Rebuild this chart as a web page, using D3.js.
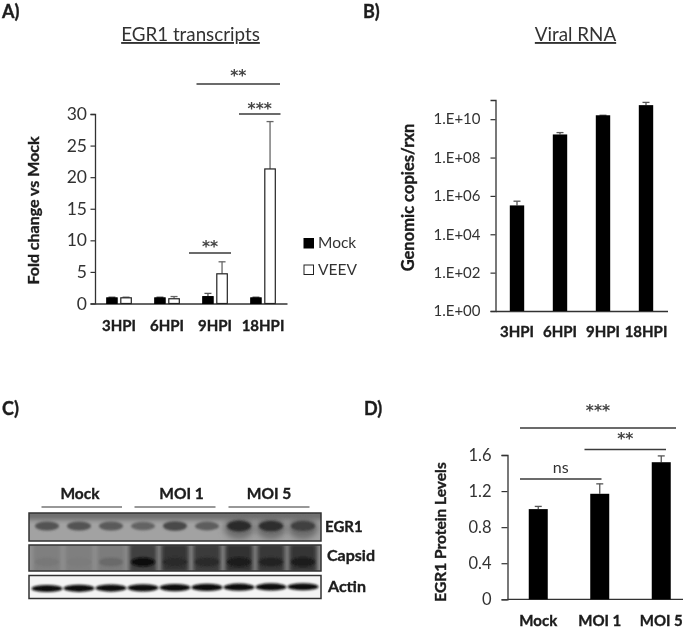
<!DOCTYPE html>
<html><head><meta charset="utf-8">
<script src="https://cdn.jsdelivr.net/npm/d3@7"></script>
<style>
html,body{margin:0;padding:0;background:#fff}
svg{display:block}
text{font-family:Lato,"Open Sans",sans-serif;fill:#222}
.b{font-weight:700;fill:#1c1c1c;stroke:#1c1c1c;stroke-width:.35}
</style></head><body>
<svg id="c" width="694" height="628"></svg>
<script>
// Panel A
const hpi = ["3HPI","6HPI","9HPI","18HPI"];
const mockMean = [0.9,0.9,1.1,0.9];
const mockErr  = [1.0,1.0,1.6,1.0];
const veevMean = [0.9,0.75,4.7,21.3];
const veevErr  = [1.0,1.1,6.6,28.8];
const aTicks = [0,5,10,15,20,25,30];
// Panel B
const rnaMean = [3.2e5,1.6e9,1.6e10,5.4e10];
const rnaErr  = [5.3e5,2.0e9,1.6e10,7.5e10];
const bTicks = [1,1e2,1e4,1e6,1e8,1e10];
const bTickLabels = ["1.E+00","1.E+02","1.E+04","1.E+06","1.E+08","1.E+10"];
// Panel C (band darkness per lane, 0-1)
const blotLanes = [0,1,2,3,4,5,6,7,8];
const egr1Bands = [.6,.6,.56,.5,.66,.54,.84,.82,.72];
const capsidUpper = [.34,.34,.36,.72,.78,.74,.8,.76,.78];
const capsidLower = [.38,.36,.46,1,.85,.85,.92,.88,.92];
const actinBands = [1,1,1,1,1,1,1,1,1];
const groups = ["Mock","MOI 1","MOI 5"];
const blotNames = ["EGR1","Capsid","Actin"];
// Panel D
const moi = ["Mock","MOI 1","MOI 5"];
const protMean = [1.0,1.17,1.52];
const protErr = [1.03,1.28,1.59];
const dTicks = [0,0.4,0.8,1.2,1.6];

const svg = d3.select("#c");
const defs = svg.append("defs");
const soft = defs.append("filter").attr("id","soft").attr("x","-5%").attr("y","-5%").attr("width","110%").attr("height","110%");
soft.append("feGaussianBlur").attr("stdDeviation",0.42);
[["blur2",2.2],["blur3",3.2],["blur1",1.2]].forEach(([id,s])=>{
  const f=defs.append("filter").attr("id",id).attr("x","-40%").attr("y","-80%").attr("width","180%").attr("height","260%");
  f.append("feGaussianBlur").attr("stdDeviation",s);
});
const root = svg.append("g").attr("filter","url(#soft)");
const axisColor = "#333";

function txt(g,x,y,s,o={}){
  const t=g.append("text").attr("x",x).attr("y",y).text(s)
    .attr("font-size",o.size||12).attr("text-anchor",o.anchor||"middle");
  if(o.bold) t.attr("class","b");
  if(o.rot!==undefined) t.attr("transform",`rotate(${o.rot} ${x} ${y})`);
  if(o.ul) t.attr("text-decoration","underline");
  if(o.color) t.style("fill",o.color);
  return t;
}
function styleAxis(a){
  a.select(".domain").attr("stroke",axisColor).attr("stroke-width",1.3);
  a.selectAll(".tick line").attr("stroke",axisColor).attr("stroke-width",1.2);
}
function errBar(g,x,y0,y1,c){
  g.append("line").attr("x1",x).attr("x2",x).attr("y1",y0).attr("y2",y1).attr("stroke",c).attr("stroke-width",1.3);
  g.append("line").attr("x1",x-3.5).attr("x2",x+3.5).attr("y1",y1).attr("y2",y1).attr("stroke",c).attr("stroke-width",1.3);
}
function sig(g,x1,x2,y,label,cy){
  g.append("line").attr("x1",x1).attr("x2",x2).attr("y1",y).attr("y2",y).attr("stroke","#3a3a3a").attr("stroke-width",1.4);
  if(label==="ns") txt(g,(x1+x2)/2,cy+4,label,{size:16,color:"#333"});
  else txt(g,(x1+x2)/2,cy+7,label,{size:15.5,color:"#444"}).style("font-family","'DejaVu Sans'").style("font-weight",700);
}

// ---------- A
const A = root.append("g");
txt(A,2,18,"A)",{size:18,anchor:"start",bold:true});
txt(A,190.5,41,"EGR1 transcripts",{size:18.8,ul:true,color:"#333"});
const ax = d3.scaleBand().domain(hpi).range([95,287]);
const ay = d3.scaleLinear().domain([0,30]).range([303.5,114]);
const aL = A.append("g").attr("transform","translate(95,0)").call(d3.axisLeft(ay).tickValues(aTicks).tickSize(4.5).tickPadding(3.5).tickFormat(d3.format("d")));
styleAxis(aL);
aL.selectAll("text").attr("font-size",17.5).style("fill","#333");
const aB = A.append("g").attr("transform","translate(0,303.5)").call(d3.axisBottom(ax).tickSize(0).tickPadding(16.5));
styleAxis(aB);
aB.selectAll("text").attr("font-size",15).attr("class","b");
const bwA = 10.5, gapA=1.8;
hpi.forEach((h,i)=>{
  const c=ax(h)+ax.bandwidth()/2;
  errBar(A,c-gapA-bwA/2,ay(mockMean[i]),ay(mockErr[i]),"#555");
  errBar(A,c+gapA+bwA/2,ay(veevMean[i]),ay(veevErr[i]),"#666");
  A.append("rect").attr("x",c-gapA-bwA).attr("y",ay(mockMean[i])).attr("width",bwA).attr("height",ay(0)-ay(mockMean[i])).attr("fill","#000").attr("stroke","#000");
  A.append("rect").attr("x",c+gapA).attr("y",ay(veevMean[i])).attr("width",bwA).attr("height",ay(0)-ay(veevMean[i])).attr("fill","#fff").attr("stroke","#222").attr("stroke-width",1.2);
});
A.append("rect").attr("x",304).attr("y",238.5).attr("width",9.5).attr("height",9.5).attr("fill","#000").attr("stroke","#000");
A.append("rect").attr("x",304).attr("y",265).attr("width",9.5).attr("height",9.5).attr("fill","#fff").attr("stroke","#222");
txt(A,318,248,"Mock",{size:15.5,anchor:"start",color:"#333"});
txt(A,318,275,"VEEV",{size:15.5,anchor:"start",color:"#333"});
txt(A,39,210.5,"Fold change vs Mock",{size:16,rot:-90,bold:true});
sig(A,189,231,253,"**",245);
sig(A,196.5,280,84,"**",74);
sig(A,239,280.5,114,"***",107);

// ---------- B
const B = root.append("g");
txt(B,363,18,"B)",{size:18,anchor:"start",bold:true});
txt(B,575.5,41,"Viral RNA",{size:18.8,ul:true,color:"#333"});
const bx = d3.scaleBand().domain(hpi).range([495.5,667.5]);
const by = d3.scaleLog().domain([1,1e11]).range([311,100]);
const bL = B.append("g").attr("transform","translate(495.5,0)").call(d3.axisLeft(by).tickValues(bTicks).tickSize(5).tickPadding(10).tickFormat((d,i)=>bTickLabels[i]));
styleAxis(bL);
bL.selectAll("text").attr("font-size",15).style("fill","#333");
const bB = B.append("g").attr("transform","translate(0,311)").call(d3.axisBottom(bx).tickSize(0).tickPadding(15));
styleAxis(bB);
bB.selectAll("text").attr("font-size",15).attr("class","b");
hpi.forEach((h,i)=>{
  const c=bx(h)+bx.bandwidth()/2;
  errBar(B,c,by(rnaMean[i]),by(rnaErr[i]),"#555");
  B.append("rect").attr("x",c-7.2).attr("y",by(rnaMean[i])).attr("width",14.4).attr("height",by(1)-by(rnaMean[i])).attr("fill","#000");
});
txt(B,414,197.5,"Genomic copies/rxn",{size:16.5,rot:-90,bold:true});

// ---------- C
const C = root.append("g");
txt(C,2,415,"C)",{size:18,anchor:"start",bold:true});
const lx = d3.scaleBand().domain(blotLanes).range([31,319]);
const laneX = d=>lx(d)+lx.bandwidth()/2;
const panels=[
 {id:"p0",y:513,h:28,bg:"#a2a2a2"},
 {id:"p1",y:545,h:26,bg:"#929292"},
 {id:"p2",y:575.5,h:23,bg:"#f4f4f4"}];
panels.forEach(p=>{
  defs.append("clipPath").attr("id",p.id).append("rect").attr("x",29).attr("y",p.y).attr("width",292).attr("height",p.h);
});
const grey=v=>{const k=Math.round(170*(1-v)+15);return `rgb(${k},${k},${k})`;};
// EGR1
const p0=C.append("g").attr("clip-path","url(#p0)");
p0.append("rect").attr("x",29).attr("y",513).attr("width",292).attr("height",28).attr("fill",panels[0].bg);
p0.append("rect").attr("x",20).attr("y",508).attr("width",310).attr("height",12).attr("fill","#6f6f6f").attr("filter","url(#blur2)");
p0.selectAll("ellipse.h").data(blotLanes.slice(6)).join("ellipse").attr("cx",laneX).attr("cy",528).attr("rx",15).attr("ry",11).attr("fill","#6a6a6a").attr("filter","url(#blur3)");
p0.selectAll("ellipse.e").data(blotLanes).join("ellipse").attr("cx",laneX).attr("cy",526).attr("rx",12).attr("ry",d=>2.5+egr1Bands[d]*3.5).attr("fill",d=>grey(egr1Bands[d])).attr("filter","url(#blur1)");
// Capsid
const p1=C.append("g").attr("clip-path","url(#p1)");
p1.append("rect").attr("x",29).attr("y",545).attr("width",292).attr("height",26).attr("fill",panels[1].bg);
p1.selectAll("rect.u").data(blotLanes).join("rect").attr("x",d=>laneX(d)-14).attr("y",543).attr("width",28).attr("height",30).attr("fill",d=>grey(capsidUpper[d])).attr("filter","url(#blur2)");
p1.selectAll("ellipse.l").data(blotLanes).join("ellipse").attr("cx",laneX).attr("cy",562).attr("rx",12).attr("ry",4.5).attr("fill",d=>grey(capsidLower[d])).attr("filter","url(#blur1)");
// Actin
const p2=C.append("g").attr("clip-path","url(#p2)");
p2.append("rect").attr("x",29).attr("y",575.5).attr("width",292).attr("height",23).attr("fill",panels[2].bg);
p2.selectAll("ellipse").data(blotLanes).join("ellipse").attr("cx",laneX).attr("cy",d=>588.5-d*0.22).attr("rx",15.5).attr("ry",3.6).attr("fill",d=>grey(actinBands[d])).attr("filter","url(#blur1)");
panels.forEach(p=>{
  C.append("rect").attr("x",29).attr("y",p.y).attr("width",292).attr("height",p.h).attr("fill","none").attr("stroke","#333").attr("stroke-width",1.5);
});
[[41.5,122],[134.5,215.5],[228.5,309.5]].forEach((r,i)=>{
  C.append("line").attr("x1",r[0]).attr("x2",r[1]).attr("y1",507).attr("y2",507).attr("stroke","#333").attr("stroke-width",1.2);
  txt(C,[80,181.5,269][i],499,groups[i],{size:15.5,bold:true});
});
[[325,532,15],[327,561,16],[328,591.5,16]].forEach((r,i)=>txt(C,r[0],r[1],blotNames[i],{size:r[2],anchor:"start",bold:true}));

// ---------- D
const D = root.append("g");
txt(D,364,415,"D)",{size:18,anchor:"start",bold:true});
const dx = d3.scaleBand().domain(moi).range([507.5,692]);
const dy = d3.scaleLinear().domain([0,1.6]).range([599.3,455]);
const dL = D.append("g").attr("transform","translate(507.5,0)").call(d3.axisLeft(dy).tickValues(dTicks).tickSize(6).tickPadding(10).tickFormat(d=>d===0?"0":d3.format(".1f")(d)));
styleAxis(dL);
dL.selectAll("text").attr("font-size",16.5).style("fill","#333");
D.append("line").attr("x1",507.5).attr("x2",683).attr("y1",599.3).attr("y2",599.3).attr("stroke",axisColor).attr("stroke-width",1.3);
const dB = D.append("g").attr("transform","translate(0,599.3)").call(d3.axisBottom(dx).tickSize(0).tickPadding(16));
dB.select(".domain").remove();
dB.selectAll("text").attr("font-size",15).attr("class","b");
moi.forEach((m,i)=>{
  const c=dx(m)+dx.bandwidth()/2;
  errBar(D,c,dy(protMean[i]),dy(protErr[i]),"#555");
  D.append("rect").attr("x",c-9.5).attr("y",dy(protMean[i])).attr("width",19).attr("height",dy(0)-dy(protMean[i])).attr("fill","#000");
});
txt(D,446,532,"EGR1 Protein Levels",{size:15.5,rot:-90,bold:true});
sig(D,520,676,428,"***",409);
sig(D,584.5,666,449.5,"**",437);
sig(D,520,601.5,479,"ns",469);
</script></body></html>
